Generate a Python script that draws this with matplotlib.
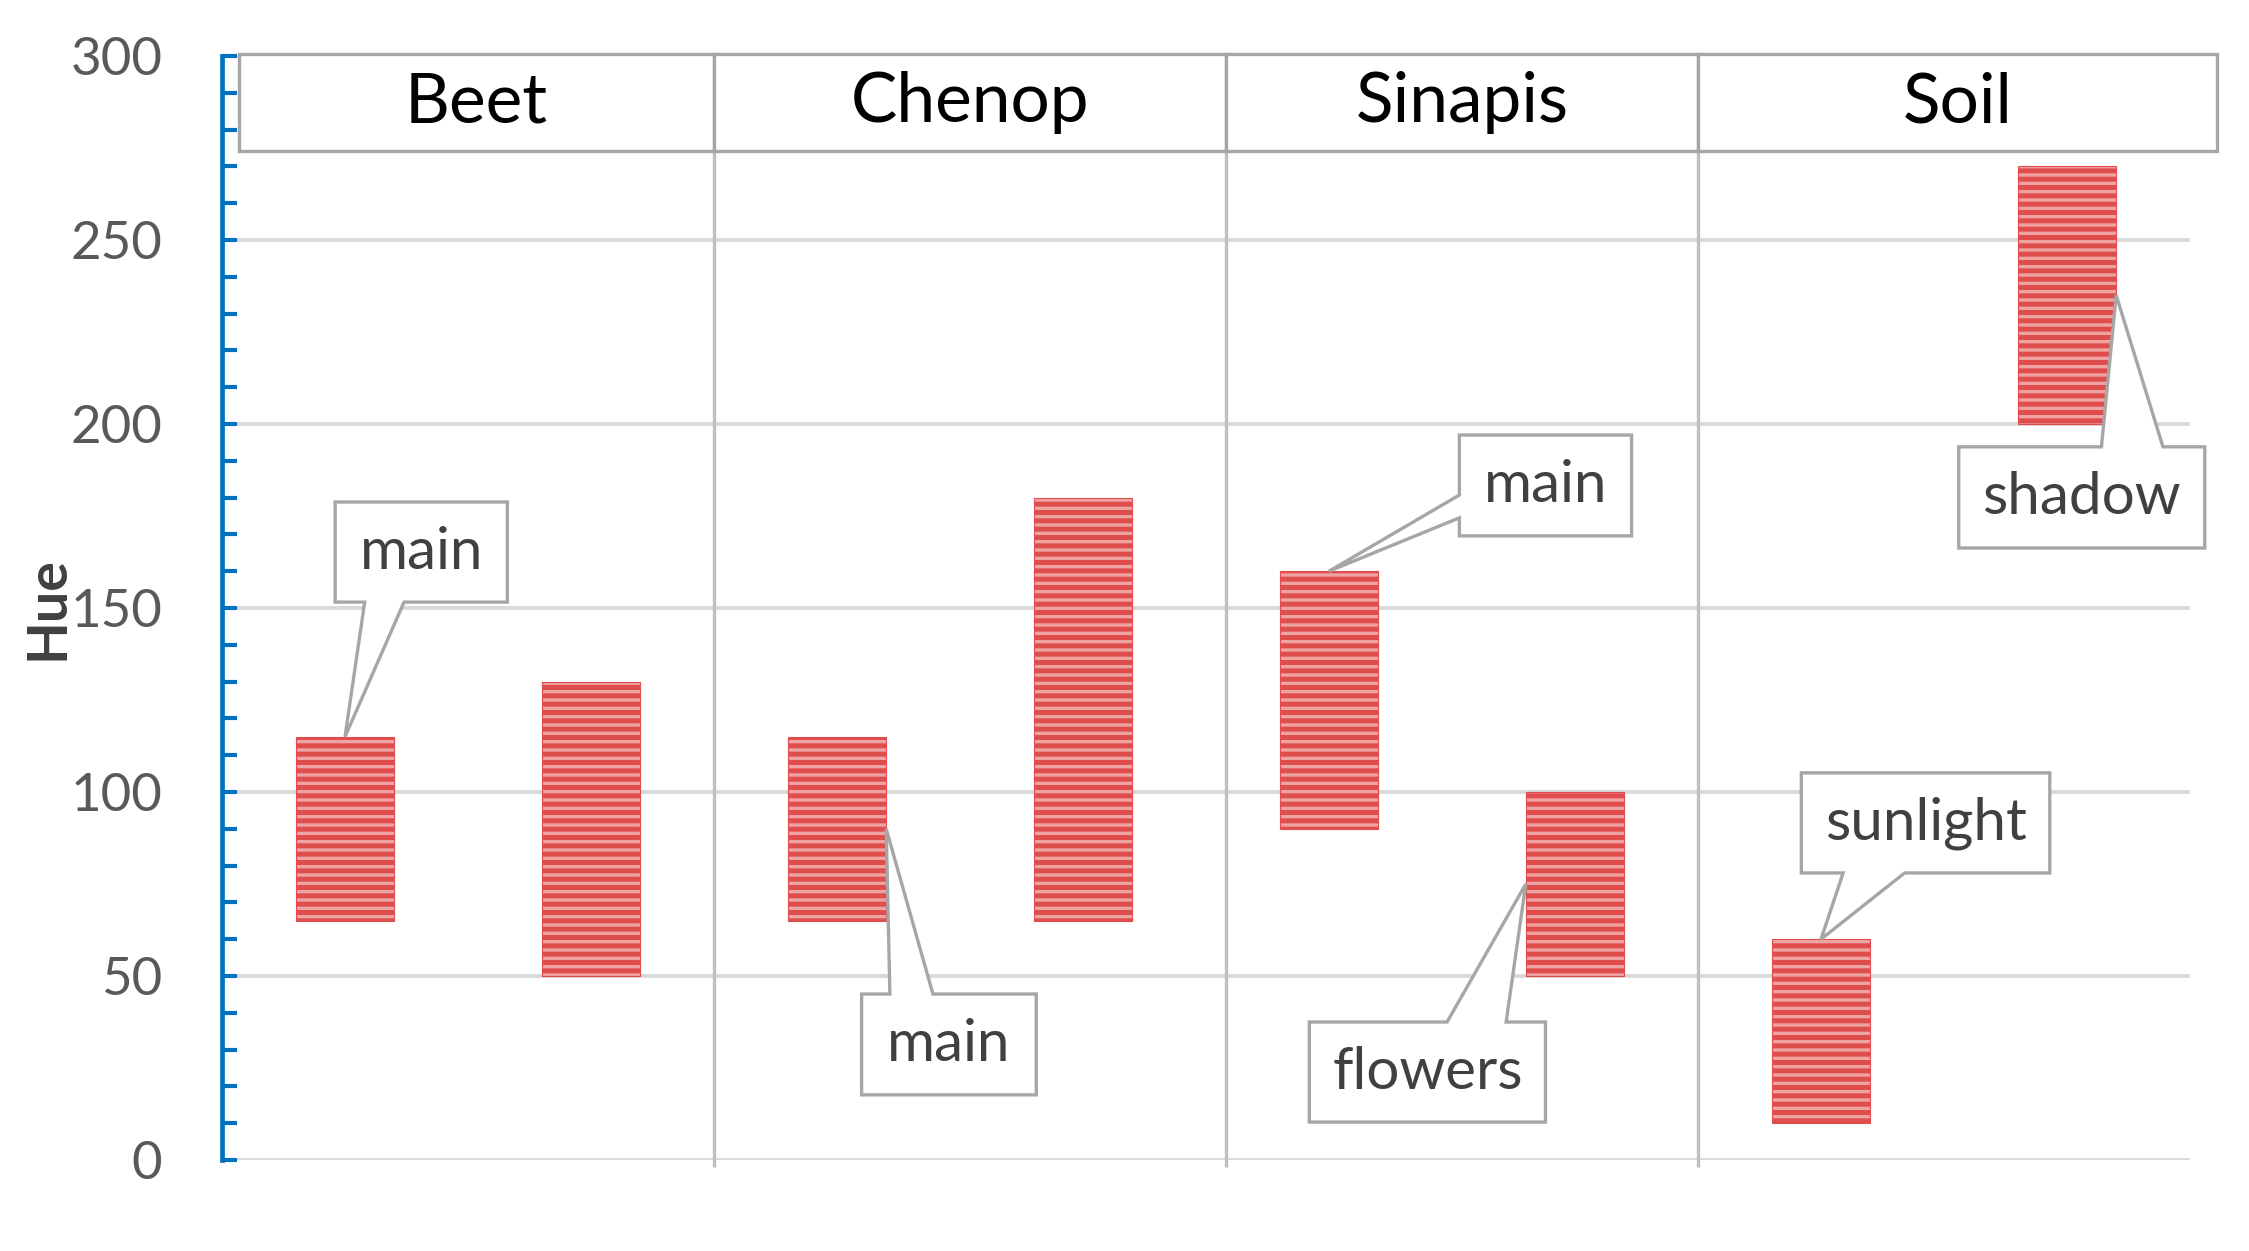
import matplotlib.pyplot as plt
from matplotlib.patches import Polygon, Rectangle
from matplotlib.ticker import MultipleLocator
import numpy as np

plt.rcParams['font.family'] = ['Lato', 'DejaVu Sans']
plt.rcParams['hatch.linewidth'] = 3.6

# data
groups = ['Beet', 'Chenop', 'Sinapis', 'Soil']
group_edges = [-0.43, 1.5, 3.58, 5.5, 7.61]
hue_low = [65, 50, 65, 65, 90, 50, 10, 200]
hue_high = [115, 130, 115, 180, 160, 100, 60, 270]

bar_w = 0.40
x = np.arange(len(hue_low))

# callouts: label, bar index, where on the bar, tip y (None = bar top), box (x0, x1, y0, y1), wedge side, wedge base
callouts = [
    ('main',     0, 'top',   None, (-0.04, 0.66, 151.6, 178.8), 'bottom', (0.08, 0.24)),
    ('main',     2, 'right', 90,   (2.10, 2.81, 17.7, 45.1),    'top',    (2.215, 2.39)),
    ('main',     4, 'top',   None, (4.53, 5.23, 169.6, 197.0),  'left',   (174.5, 180.7)),
    ('flowers',  5, 'left',  75,   (3.92, 4.88, 10.3, 37.5),    'top',    (4.48, 4.72)),
    ('sunlight', 6, 'top',   None, (5.92, 6.93, 78.0, 105.2),   'bottom', (6.09, 6.34)),
    ('shadow',   7, 'right', 235,  (6.56, 7.56, 166.3, 193.8),  'top',    (7.14, 7.39)),
]


def callout_shape(box, side, base, tip):
    x0, x1, y0, y1 = box
    a, b = base
    if side == 'bottom':
        return [(x0, y1), (x1, y1), (x1, y0), (b, y0), tip, (a, y0), (x0, y0)]
    if side == 'top':
        return [(x0, y0), (x1, y0), (x1, y1), (b, y1), tip, (a, y1), (x0, y1)]
    return [(x0, y0), (x1, y0), (x1, y1), (x0, y1), (x0, b), tip, (x0, a)]


fig = plt.figure(figsize=(22.49, 12.51), dpi=100)
ax = fig.add_axes([222 / 2249, 91 / 1251, 1968 / 2249, 1104 / 1251])

low = np.array(hue_low)
high = np.array(hue_high)
ax.bar(x, high - low, bottom=low, width=bar_w, facecolor='#F0A3A3',
       edgecolor='#E04D4D', linewidth=0.8, hatch='--', zorder=3)

ax.set_xlim(-0.5, 7.5)
ax.set_ylim(0, 300)
ax.set_yticks(np.arange(0, 301, 50))
ax.yaxis.set_minor_locator(MultipleLocator(10))
ax.set_xticks([])
ax.tick_params(axis='y', which='both', direction='in', length=11, width=3.0,
               color='#0070C0', pad=43, labelsize=38, labelcolor='#595959')
ax.spines['left'].set_color('#0070C0')
ax.spines['left'].set_linewidth(3.4)
ax.spines['top'].set_visible(False)
ax.spines['right'].set_visible(False)
ax.spines['bottom'].set_visible(False)
ax.set_axisbelow(True)
ax.yaxis.grid(True, which='major', color='#D9D9D9', linewidth=2.8)

ax.set_ylabel('Hue', fontsize=40, fontweight='bold', color='#404040')
ax.yaxis.set_label_coords(-0.076, 0.5)

# group separators and header boxes
ax.vlines(group_edges[1:-1], -2, 274.2, colors='#BFBFBF', linewidth=2.4, zorder=2, clip_on=False)
for name, e0, e1 in zip(groups, group_edges[:-1], group_edges[1:]):
    ax.add_patch(Rectangle((e0, 274.2), e1 - e0, 26.3, facecolor='white', edgecolor='#A6A6A6',
                           linewidth=2.4, zorder=5, clip_on=False))
    ax.text((e0 + e1) / 2, 287.3, name, ha='center', va='center', fontsize=50,
            color='black', zorder=6, clip_on=False)

# callouts
for label, i, where, ty, box, side, base in callouts:
    if where == 'top':
        tip = (x[i], high[i])
    elif where == 'right':
        tip = (x[i] + bar_w / 2, ty)
    else:
        tip = (x[i] - bar_w / 2, ty)
    ax.add_patch(Polygon(callout_shape(box, side, base, tip), closed=True, facecolor='white',
                         edgecolor='#A6A6A6', linewidth=2.4, joinstyle='miter', zorder=4, clip_on=False))
    x0, x1, y0, y1 = box
    ax.text((x0 + x1) / 2, (y0 + y1) / 2, label, ha='center', va='center', fontsize=42,
            color='#404040', zorder=4.5, clip_on=False)

fig.savefig('out.png', dpi=100, facecolor='white')
